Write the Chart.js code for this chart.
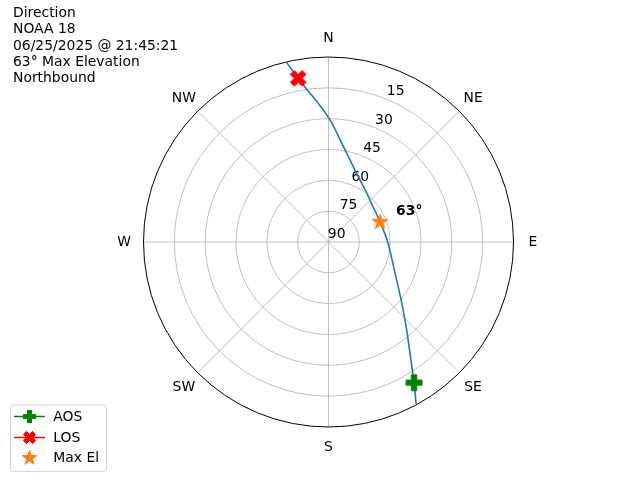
<!DOCTYPE html>
<html>
<head>
<meta charset="utf-8">
<script src="https://cdn.jsdelivr.net/npm/chart.js"></script>
<style>
    body { margin: 0; background: #fff; }
    #wrap { position: relative; width: 640px; height: 480px; }
    #info {
        position: absolute; left: 13px; top: 4px;
        font: 13.9px/16.3px "DejaVu Sans", sans-serif; color: #000;
        white-space: pre;
    }
</style>
</head>
<body>
<div id="wrap">
    <canvas id="passChart" width="640" height="480"></canvas>
    <div id="info">Direction
NOAA 18
06/25/2025 @ 21:45:21
63° Max Elevation
Northbound</div>
</div>
<script>
    // compass labels round the outside
    const compassLabels = ['N', 'NE', 'E', 'SE', 'S', 'SW', 'W', 'NW'];
    const compassAngles = [0, 45, 90, 135, 180, 225, 270, 315];
    // elevation rings (radius = 90 - elevation)
    const elevationTicks = [90, 75, 60, 45, 30, 15];

    // satellite track (azimuth deg, elevation deg)
    const trackAz = [151.6, 148.7, 146.1, 138.4, 129.9, 115.2, 90.0, 68.8, 48.0, 35.3, 24.5, 10.2, 0.7, 350.9, 349.5, 346.9];
    const trackEl = [0.4, 9.9, 17.4, 32.7, 43.5, 54.2, 61.2, 63.1, 61.9, 59.0, 55.1, 44.5, 30.6, 12.6, 9.0, 0.4];

    // AOS / LOS / Max El markers
    const markerNames = ['AOS', 'LOS', 'Max El'];
    const markerAz = [148.7, 349.5, 68.8];
    const markerEl = [9.9, 9.0, 63.1];
    const maxElText = '63°';

    const FONT = '"DejaVu Sans", sans-serif';

    function toXY(az, el) {
        const r = 90 - el;
        const a = az * Math.PI / 180;
        return {x: r * Math.sin(a), y: r * Math.cos(a)};
    }

    // small canvases used as point styles
    function markerCanvas(shape, size, color, handleWidth) {
        const w = Math.ceil(Math.max(size + 4, handleWidth || 0));
        const h = Math.ceil(size + 4);
        const c = document.createElement('canvas');
        c.width = w; c.height = h;
        const g = c.getContext('2d');
        const cx = w / 2, cy = h / 2;
        if (handleWidth && shape !== 'star') {
            g.strokeStyle = color; g.lineWidth = 1.5;
            g.beginPath(); g.moveTo(0, cy); g.lineTo(w, cy); g.stroke();
        }
        g.fillStyle = color; g.strokeStyle = color; g.lineWidth = 1; g.lineJoin = 'round';
        g.beginPath();
        if (shape === 'star') {
            const R = size / 2, ri = R * 0.381966;
            for (let i = 0; i < 10; i++) {
                const rr = i % 2 ? ri : R;
                const a = -Math.PI / 2 + i * Math.PI / 5;
                const px = cx + rr * Math.cos(a), py = cy + rr * Math.sin(a);
                i ? g.lineTo(px, py) : g.moveTo(px, py);
            }
        } else {
            const s = size / 2, t = size / 6;
            const pts = [[t, -s], [t, -t], [s, -t], [s, t], [t, t], [t, s], [-t, s], [-t, t], [-s, t], [-s, -t], [-t, -t], [-t, -s]];
            const a = shape === 'x' ? Math.PI / 4 : 0;
            pts.forEach(([px, py], i) => {
                const X = cx + px * Math.cos(a) - py * Math.sin(a);
                const Y = cy + px * Math.sin(a) + py * Math.cos(a);
                i ? g.lineTo(X, Y) : g.moveTo(X, Y);
            });
        }
        g.closePath(); g.fill(); g.stroke();
        return c;
    }

    const markerColors = ['#008000', '#ff0000', '#ff7f0e'];
    const plotIcons = [markerCanvas('plus', 16, markerColors[0]), markerCanvas('x', 16.6, markerColors[1]), markerCanvas('star', 16.6, markerColors[2])];
    const legendIcons = [markerCanvas('plus', 12.3, markerColors[0], 31), markerCanvas('x', 13, markerColors[1], 31), markerCanvas('star', 15.4, markerColors[2], 31)];

    // polar grid, compass and elevation labels, plus the legend box
    const polarGrid = {
        id: 'polarGrid',
        beforeDatasetsDraw(chart) {
            const ctx = chart.ctx;
            const xs = chart.scales.x, ys = chart.scales.y;
            const cx = xs.getPixelForValue(0), cy = ys.getPixelForValue(0);
            const unit = xs.getPixelForValue(1) - cx;
            ctx.save();
            ctx.strokeStyle = '#b0b0b0';
            ctx.lineWidth = 0.8;
            elevationTicks.forEach(el => {
                const r = (90 - el) * unit;
                if (r <= 0) return;
                ctx.beginPath(); ctx.arc(cx, cy, r, 0, Math.PI * 2); ctx.stroke();
            });
            compassAngles.forEach(az => {
                const p = toXY(az, 0);
                ctx.beginPath();
                ctx.moveTo(cx, cy);
                ctx.lineTo(xs.getPixelForValue(p.x), ys.getPixelForValue(p.y));
                ctx.stroke();
            });
            // outer ring
            ctx.strokeStyle = '#000';
            ctx.lineWidth = 1;
            ctx.beginPath(); ctx.arc(cx, cy, 90 * unit, 0, Math.PI * 2); ctx.stroke();

            ctx.fillStyle = '#000';
            ctx.font = '13.9px ' + FONT;
            ctx.textAlign = 'center';
            ctx.textBaseline = 'middle';
            compassLabels.forEach((lab, i) => {
                const a = compassAngles[i] * Math.PI / 180;
                const r = 90 * unit + 19.5;
                ctx.fillText(lab, cx + r * Math.sin(a), cy - r * Math.cos(a) + 0.5);
            });
            elevationTicks.forEach(el => {
                const p = toXY(22.5, el);
                ctx.fillText(String(el), xs.getPixelForValue(p.x) + 8.2, ys.getPixelForValue(p.y) - 7.7);
            });
            ctx.restore();
        },
        afterDatasetsDraw(chart) {
            const ctx = chart.ctx;
            const pt = chart.getDatasetMeta(2).data[0];
            ctx.save();
            ctx.fillStyle = '#000';
            ctx.font = 'bold 13.9px ' + FONT;
            ctx.textAlign = 'left';
            ctx.textBaseline = 'middle';
            ctx.fillText(maxElText, pt.x + 16, pt.y - 10.3);

            // legend, bottom left
            ctx.beginPath();
            ctx.roundRect(10.5, 405, 96, 66.5, 3);
            ctx.fillStyle = 'rgba(255,255,255,0.8)';
            ctx.fill();
            ctx.strokeStyle = 'rgba(204,204,204,0.8)';
            ctx.lineWidth = 1;
            ctx.stroke();
            ctx.font = '13.9px ' + FONT;
            ctx.fillStyle = '#000';
            markerNames.forEach((name, i) => {
                const yc = 416.7 + i * 20.8;
                const icon = legendIcons[i];
                ctx.drawImage(icon, Math.round(29.2 - icon.width / 2), Math.round(yc - icon.height / 2));
                ctx.fillText(name, 53.3, yc + 0.5);
            });
            ctx.restore();
        }
    };

    const pxPerUnit = 185 / 90;

    new Chart(document.getElementById('passChart'), {
        type: 'scatter',
        data: {
            datasets: [
                ...markerNames.map((name, i) => ({
                    label: name,
                    data: [toXY(markerAz[i], markerEl[i])],
                    pointStyle: plotIcons[i],
                    pointRadius: 8,
                    showLine: false,
                    order: 0
                })),
                {
                    label: 'track',
                    data: trackAz.map((az, i) => toXY(az, trackEl[i])),
                    showLine: true,
                    borderColor: '#1f77b4',
                    borderWidth: 1.6,
                    pointRadius: 0,
                    cubicInterpolationMode: 'monotone',
                    order: 1
                }
            ]
        },
        options: {
            responsive: false,
            animation: false,
            events: [],
            layout: {padding: 0, autoPadding: false},
            scales: {
                x: {type: 'linear', display: false, min: -328.5 / pxPerUnit, max: (640 - 328.5) / pxPerUnit},
                y: {type: 'linear', display: false, min: -(480 - 242) / pxPerUnit, max: 242 / pxPerUnit}
            },
            plugins: {
                tooltip: {enabled: false},
                legend: {display: false}
            }
        },
        plugins: [polarGrid]
    });
</script>
</body>
</html>
